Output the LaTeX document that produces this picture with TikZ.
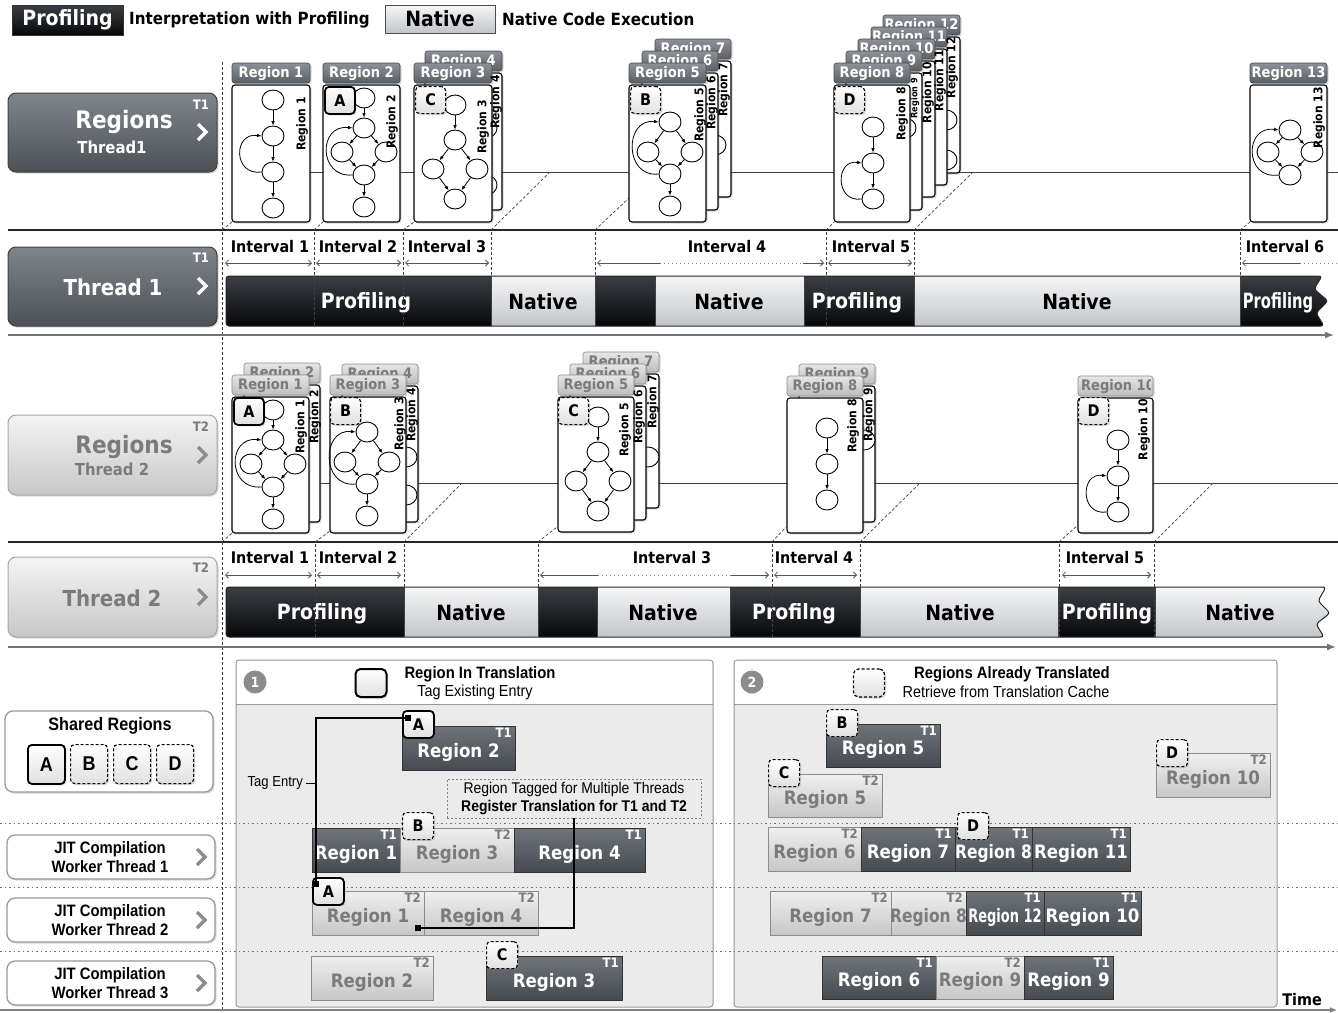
\documentclass[tikz,border=0pt]{standalone}
\usepackage{fontspec}
\setmainfont{DejaVu Sans}[FakeStretch=0.9]
\newfontfamily\libf{Liberation Sans}[FakeStretch=0.9]
\usetikzlibrary{arrows.meta,shapes.geometric,shadows}
\definecolor{hdrtop}{HTML}{8E9298}
\definecolor{hdrbot}{HTML}{5A5F65}
\definecolor{hdrln}{HTML}{474B51}
\definecolor{lhtop}{HTML}{E6E6E6}
\definecolor{lhbot}{HTML}{BCBDBF}
\definecolor{lhln}{HTML}{8A8C8F}
\definecolor{ltxt}{HTML}{7B7B7B}
\definecolor{dktop}{HTML}{80858C}
\definecolor{dkbot}{HTML}{4C5157}
\definecolor{jdtop}{HTML}{6F747B}
\definecolor{jdbot}{HTML}{464B51}
\definecolor{bltop}{HTML}{3B3F45}
\definecolor{blbot}{HTML}{060708}
\definecolor{nttop}{HTML}{F6F6F6}
\definecolor{ntbot}{HTML}{C2C5C9}
\definecolor{pnlc}{HTML}{EBEBEB}
\definecolor{circc}{HTML}{8C8C8C}
\definecolor{lnc}{HTML}{555555}
\tikzset{
  shd/.style={drop shadow={shadow xshift=1.5pt,shadow yshift=-1.5pt,opacity=0.3}},
  gn/.style={draw,line width=0.9pt,ellipse,minimum width=22pt,minimum height=20pt,inner sep=0pt,fill=white},
  ga/.style={-{Latex[length=4.5pt,width=3.6pt]},line width=0.8pt},
  cardbody/.style={draw=black,line width=1.1pt,fill=white,rounded corners=3pt,shd},
  hdrA/.style={draw=hdrln,line width=0.6pt,top color=hdrtop,bottom color=hdrbot,rounded corners=2.5pt,shd},
  hdrB/.style={draw=lhln,line width=0.6pt,top color=lhtop,bottom color=lhbot,rounded corners=2.5pt,shd},
  htA/.style={text=white,inner sep=0pt,font=\bfseries\fontsize{14.5}{14.5}\selectfont},
  htB/.style={text=ltxt,inner sep=0pt,font=\bfseries\fontsize{14.5}{14.5}\selectfont},
  vlab/.style={rotate=90,anchor=east,inner sep=0pt,font=\bfseries\fontsize{12}{12}\selectfont},
  bdgS/.style={draw=black,line width=1.8pt,rounded corners=4pt,top color=white,bottom color=black!12,minimum width=30pt,minimum height=27pt,inner sep=0pt,anchor=north west,font=\bfseries\fontsize{16}{16}\selectfont,shd},
  bdgD/.style={bdgS,line width=1.1pt,dash pattern=on 3pt off 2pt},
  iv/.style={draw=lnc,line width=0.8pt},
  ivb/.style={iv,{Straight Barb[length=3pt,width=6pt]}-{Straight Barb[length=3pt,width=6pt]}},
  ivl/.style={iv,{Straight Barb[length=3pt,width=6pt]}-},
  ivr/.style={iv,-{Straight Barb[length=3pt,width=6pt]}},
  ivd/.style={draw=lnc!70,line width=0.8pt,dash pattern=on 1pt off 3pt},
  dashv/.style={draw=black!75,line width=0.7pt,dash pattern=on 3pt off 2pt},
  ilab/.style={inner sep=0pt,font=\bfseries\fontsize{16}{16}\selectfont},
  blk/.style={top color=bltop,bottom color=blbot},
  nat/.style={top color=nttop,bottom color=ntbot},
  btW/.style={text=white,inner sep=0pt,font=\bfseries\fontsize{21}{21}\selectfont},
  btK/.style={text=black,inner sep=0pt,font=\bfseries\fontsize{21}{21}\selectfont},
  segl/.style={draw=black!75,line width=0.8pt},
  lbD/.style={draw=black!75,line width=1pt,rounded corners=8pt,top color=dktop,bottom color=dkbot,shd},
  lbL/.style={draw=black!35,line width=1pt,rounded corners=8pt,top color=black!4,bottom color=black!22,shd},
  jbD/.style={draw=black!80,line width=1pt,top color=jdtop,bottom color=jdbot},
  jbL/.style={draw=black!45,line width=1pt,top color=black!6,bottom color=black!22},
  jtD/.style={text=white,inner sep=0pt,font=\bfseries\fontsize{18.5}{18.5}\selectfont},
  jtL/.style={text=ltxt,inner sep=0pt,font=\bfseries\fontsize{18.5}{18.5}\selectfont},
  jgD/.style={text=white,inner sep=0pt,font=\bfseries\fontsize{13}{13}\selectfont},
  jgL/.style={text=ltxt,inner sep=0pt,font=\bfseries\fontsize{13}{13}\selectfont},
  wbox/.style={draw=black!40,line width=1.3pt,rounded corners=8pt,fill=white,shd},
  chevW/.style={draw=white,line width=3.5pt},
  chevG/.style={draw=black!45,line width=3.5pt},
  dotl/.style={draw=black!55,line width=1pt,dash pattern=on 1.5pt off 3pt},
}
\newcommand{\cardA}[7]{%
  \draw[cardbody] (#2,#3+22) rectangle (#4,#5);
  \draw[hdr#7] (#2,#3) rectangle (#4,#3+20);
  \node[ht#7] (#1) at ({(#2+#4)/2},#3+10.5) {#6};}
\newcommand{\jb}[9]{%
  \draw[jb#8] (#2,#3) rectangle (#4,#5);
  \node[jt#8,#9] (#1) at ({(#2+#4)/2},{(#3+#5)/2+4}) {#6};
  \node[jg#8,anchor=north east] (#1g) at (#4-3,#3+2) {#7};}
\newcommand{\grA}[3]{%
  \node[gn] (#1a) at (#2,#3) {};
  \node[gn] (#1b) at (#2,#3+36) {};
  \node[gn] (#1c) at (#2,#3+72) {};
  \node[gn] (#1d) at (#2,#3+108) {};
  \draw[ga] (#1a)--(#1b); \draw[ga] (#1b)--(#1c); \draw[ga] (#1c)--(#1d);
  \draw[ga] (#1c.west) .. controls (#2-40,#3+76) and (#2-40,#3+32) .. (#1b.west);}
\newcommand{\grB}[3]{%
  \node[gn] (#1a) at (#2,#3) {};
  \node[gn] (#1b) at (#2,#3+30) {};
  \node[gn] (#1l) at (#2-22,#3+54) {};
  \node[gn] (#1r) at (#2+22,#3+54) {};
  \node[gn] (#1m) at (#2,#3+77) {};
  \node[gn] (#1e) at (#2,#3+109) {};
  \draw[ga] (#1a)--(#1b); \draw[ga] (#1b)--(#1l); \draw[ga] (#1b)--(#1r);
  \draw[ga] (#1l)--(#1m); \draw[ga] (#1r)--(#1m); \draw[ga] (#1m)--(#1e);
  \draw[ga] (#1m.west) .. controls (#2-46,#3+80) and (#2-46,#3+26) .. (#1b.west);}
\newcommand{\grC}[3]{%
  \node[gn] (#1a) at (#2,#3) {};
  \node[gn] (#1b) at (#2,#3+35) {};
  \node[gn] (#1l) at (#2-22,#3+64) {};
  \node[gn] (#1r) at (#2+22,#3+64) {};
  \node[gn] (#1m) at (#2,#3+94) {};
  \draw[ga] (#1a)--(#1b); \draw[ga] (#1b)--(#1l); \draw[ga] (#1b)--(#1r);
  \draw[ga] (#1l)--(#1m); \draw[ga] (#1r)--(#1m);}
\newcommand{\grD}[3]{%
  \node[gn] (#1a) at (#2,#3) {};
  \node[gn] (#1l) at (#2-22,#3+30) {};
  \node[gn] (#1r) at (#2+22,#3+30) {};
  \node[gn] (#1m) at (#2,#3+52) {};
  \node[gn] (#1e) at (#2,#3+84) {};
  \draw[ga] (#1a)--(#1l); \draw[ga] (#1a)--(#1r);
  \draw[ga] (#1l)--(#1m); \draw[ga] (#1r)--(#1m); \draw[ga] (#1m)--(#1e);
  \draw[ga] (#1m.west) .. controls (#2-46,#3+56) and (#2-46,#3-4) .. (#1a.west);}
\newcommand{\grE}[3]{%
  \node[gn] (#1a) at (#2,#3) {};
  \node[gn] (#1b) at (#2,#3+36) {};
  \node[gn] (#1c) at (#2,#3+72) {};
  \draw[ga] (#1a)--(#1b); \draw[ga] (#1b)--(#1c);
  \draw[ga] (#1c.west) .. controls (#2-38,#3+76) and (#2-38,#3+32) .. (#1b.west);}
\newcommand{\grF}[3]{%
  \node[gn] (#1a) at (#2,#3) {};
  \node[gn] (#1b) at (#2,#3+36) {};
  \node[gn] (#1c) at (#2,#3+72) {};
  \draw[ga] (#1a)--(#1b); \draw[ga] (#1b)--(#1c);}
\newcommand{\grG}[3]{%
  \node[gn] (#1a) at (#2,#3) {};
  \node[gn] (#1l) at (#2-22,#3+22) {};
  \node[gn] (#1r) at (#2+22,#3+22) {};
  \node[gn] (#1m) at (#2,#3+45) {};
  \draw[ga] (#1a)--(#1l); \draw[ga] (#1a)--(#1r);
  \draw[ga] (#1l)--(#1m); \draw[ga] (#1r)--(#1m);
  \draw[ga] (#1m.west) .. controls (#2-46,#3+50) and (#2-46,#3-5) .. (#1a.west);}

\begin{document}
\begin{tikzpicture}[x=1pt,y=-1pt]
\useasboundingbox (0,0) rectangle (1338,1012);
\fill[white] (0,0) rectangle (1338,1012);

% ---------------- legend
\node[draw=black!80,line width=1pt,blk,minimum width=111pt,minimum height=30pt,inner sep=0pt,text=white,font=\bfseries\fontsize{21}{21}\selectfont] (lgP) at (67.5,20) {Profiling};
\node[anchor=west,inner sep=0pt,font=\bfseries\fontsize{16.8}{16.8}\selectfont] (lgPt) at (129,20) {Interpretation with Profiling};
\node[draw=black!70,line width=1pt,nat,minimum width=110pt,minimum height=28pt,inner sep=0pt,font=\bfseries\fontsize{21}{21}\selectfont] (lgN) at (440,19) {Native};
\node[anchor=west,inner sep=0pt,font=\bfseries\fontsize{16.8}{16.8}\selectfont] (lgNt) at (502,19) {Native Code Execution};

% ---------------- frame lines
\draw[dashv] (222,62) -- (222,1012);
\draw[black!85,line width=1.4pt] (8,230) -- (1338,230);
\draw[black!85,line width=1.4pt] (8,542) -- (1338,542);
\draw[black!55,line width=1.6pt,-{Latex[length=9pt,width=7pt]}] (8,335) -- (1334,335);
\draw[black!55,line width=1.6pt,-{Latex[length=9pt,width=7pt]}] (8,647) -- (1336,647);
\draw[black!75,line width=1pt] (232,172) -- (1338,172);
\draw[black!75,line width=1pt] (232,483) -- (1338,483);

% diagonals T1
\draw[dashv] (222,230) -- (232,222);
\draw[dashv] (314,230) -- (323,222);
\draw[dashv] (403,230) -- (414,222);
\draw[dashv] (491,230) -- (550,172);
\draw[dashv] (595,230) -- (630,197);
\draw[dashv] (826,230) -- (834,222);
\draw[dashv] (914,230) -- (973,172);
\draw[dashv] (1240,230) -- (1250,222);
% diagonals T2
\draw[dashv] (222,542) -- (232,533);
\draw[dashv] (315,542) -- (330,531);
\draw[dashv] (404,542) -- (462,483);
\draw[dashv] (538,542) -- (557,527);
\draw[dashv] (772,542) -- (786,527);
\draw[dashv] (860,542) -- (920,483);
\draw[dashv] (1059,542) -- (1078,525);
\draw[dashv] (1154,542) -- (1213,483);

% ---------------- left boxes
\draw[lbD] (8,93) rectangle (217,172);
\node[text=white,inner sep=0pt,font=\bfseries\fontsize{24}{24}\selectfont] (rg1) at (124,122) {Regions};
\node[text=white,inner sep=0pt,font=\bfseries\fontsize{16.5}{16.5}\selectfont] (rg1b) at (112,147) {Thread1};
\node[text=white,inner sep=0pt,font=\bfseries\fontsize{13}{13}\selectfont] (rg1t) at (201,105) {T1};
\draw[chevW] (198,124) -- (206,132) -- (198,140);

\draw[lbD] (8,247) rectangle (217,326);
\node[text=white,inner sep=0pt,font=\bfseries\fontsize{22}{22}\selectfont] (th1) at (113,287) {Thread 1};
\node[text=white,inner sep=0pt,font=\bfseries\fontsize{13}{13}\selectfont] (th1t) at (201,258) {T1};
\draw[chevW] (198,278) -- (206,286) -- (198,294);

\draw[lbL] (8,415) rectangle (217,495);
\node[text=ltxt,inner sep=0pt,font=\bfseries\fontsize{24}{24}\selectfont] (rg2) at (124,447) {Regions};
\node[text=ltxt,inner sep=0pt,font=\bfseries\fontsize{16.5}{16.5}\selectfont] (rg2b) at (112,469) {Thread 2};
\node[text=ltxt,inner sep=0pt,font=\bfseries\fontsize{13}{13}\selectfont] (rg2t) at (201,427) {T2};
\draw[chevG] (198,447) -- (206,455) -- (198,463);

\draw[lbL] (8,557) rectangle (217,637);
\node[text=ltxt,inner sep=0pt,font=\bfseries\fontsize{22}{22}\selectfont] (th2) at (112,598) {Thread 2};
\node[text=ltxt,inner sep=0pt,font=\bfseries\fontsize{13}{13}\selectfont] (th2t) at (201,568) {T2};
\draw[chevG] (198,589) -- (206,597) -- (198,605);

% ---------------- T1 cards
\cardA{h1}{232}{63}{310}{222}{Region 1}{A}
\grA{ga1}{273}{100}
\cardA{h2}{323}{63}{400}{222}{Region 2}{A}
\grB{gb2}{364}{98}
\node[bdgS] (bA1) at (324,86) {A};
\cardA{h4}{425}{51}{502}{210}{Region 4}{A}
\node[gn] (gh4a) at (486,128) {};
\node[gn] (gh4b) at (486,185) {};
\cardA{h3}{414}{63}{492}{222}{Region 3}{A}
\grC{gc3}{455}{105}
\node[bdgD] (bC1) at (415,86) {C};
\cardA{h7}{655}{39}{731}{197}{Region 7}{A}
\node[gn] (gh7) at (715,145) {};
\cardA{h6}{642}{51}{718}{210}{Region 6}{A}
\cardA{h5}{629}{63}{706}{222}{Region 5}{A}
\grD{gd5}{670}{122}
\node[bdgD] (bB1) at (630,86) {B};
\cardA{h12}{883}{15}{960}{173}{Region 12}{A}
\node[gn] (gh12a) at (946,120) {};
\node[gn] (gh12b) at (946,160) {};
\cardA{h11}{871}{27}{947}{185}{Region 11}{A}
\cardA{h10}{858}{39}{935}{197}{Region 10}{A}
\cardA{h9}{846}{51}{922}{210}{Region 9}{A}
\node[gn] (gh9) at (905,128) {};
\cardA{h8}{834}{63}{910}{222}{Region 8}{A}
\grE{ge8}{873}{127}
\node[bdgD] (bD1) at (834,86) {D};
\cardA{h13}{1250}{63}{1327}{222}{Region 13}{A}
\grG{gg13}{1290}{130}

\node[vlab] (v1) at (302,97) {Region 1};
\node[vlab] (v2) at (392,95) {Region 2};
\node[vlab] (v3) at (483,100) {Region 3};
\node[vlab] (v4) at (496,75) {Region 4};
\node[vlab] (v5) at (700,88) {Region 5};
\node[vlab] (v6) at (712,76) {Region 6};
\node[vlab] (v7) at (724,63) {Region 7};
\node[vlab] (v8) at (902,87) {Region 8};
\node[vlab,font=\bfseries\fontsize{9}{9}\selectfont] (v9) at (915,78) {Region 9};
\node[vlab] (v10) at (928,62) {Region 10};
\node[vlab] (v11) at (940,50) {Region 11};
\node[vlab] (v12) at (952,37) {Region 12};
\node[vlab] (v13) at (1319,87) {Region 13};

% ---------------- T2 cards
\cardA{k2}{244}{363}{320}{522}{Region 2}{B}
\cardA{k1}{232}{375}{309}{533}{Region 1}{B}
\grB{gk1}{273}{410}
\node[bdgS] (bA2) at (233,397) {A};
\cardA{k4}{342}{364}{418}{522}{Region 4}{B}
\node[gn] (gk4a) at (406,457) {};
\node[gn] (gk4b) at (406,495) {};
\cardA{k3}{330}{375}{406}{533}{Region 3}{B}
\grD{gk3}{367}{432}
\node[bdgD] (bB2) at (330,397) {B};
\cardA{k7}{583}{352}{659}{508}{Region 7}{B}
\node[gn] (gk7) at (648,457) {};
\cardA{k6}{570}{364}{646}{520}{Region 6}{B}
\cardA{k5}{558}{375}{634}{532}{Region 5}{B}
\grC{gk5}{598}{417}
\node[bdgD] (bC2) at (558,397) {C};
\cardA{k9}{799}{364}{875}{522}{Region 9}{B}
\node[gn] (gk9) at (864,440) {};
\cardA{k8}{787}{376}{863}{533}{Region 8}{B}
\grF{gk8}{827}{428}
\cardA{k10}{1078}{376}{1153}{533}{}{B}
\begin{scope}
\clip (1080,376) rectangle (1150,396);
\node[htB] (k10t) at (1118,386.5) {Region 10};
\end{scope}
\grE{gk10}{1118}{440}
\node[bdgD] (bD2) at (1078,397) {D};

\node[vlab] (w1) at (301,400) {Region 1};
\node[vlab] (w2) at (315,390) {Region 2};
\node[vlab] (w3) at (400,397) {Region 3};
\node[vlab] (w4) at (412,388) {Region 4};
\node[vlab] (w5) at (625,403) {Region 5};
\node[vlab] (w6) at (639,390) {Region 6};
\node[vlab] (w7) at (653,375) {Region 7};
\node[vlab] (w8) at (853,399) {Region 8};
\node[vlab] (w9) at (869,388) {Region 9};
\node[vlab] (w10) at (1144,399) {Region 10};

% ---------------- T1 bar
\begin{scope}
\clip[rounded corners=3pt] (1322,276) -- (226,276) -- (226,326) -- (1324,326) -- (1316,313) -- (1328,301) -- (1314,289) -- cycle;
\shade[blk] (226,276) rectangle (491,326);
\shade[nat] (491,276) rectangle (595,326);
\shade[blk] (595,276) rectangle (655,326);
\shade[nat] (655,276) rectangle (804,326);
\shade[blk] (804,276) rectangle (914,326);
\shade[nat] (914,276) rectangle (1240,326);
\shade[blk] (1240,276) rectangle (1332,326);
\draw[segl] (491,276) -- (491,326);
\draw[segl] (595,276) -- (595,326);
\draw[segl] (655,276) -- (655,326);
\draw[segl] (804,276) -- (804,326);
\draw[segl] (914,276) -- (914,326);
\draw[segl] (1240,276) -- (1240,326);
\end{scope}
\draw[black!85,line width=1pt,rounded corners=3pt] (1322,276) -- (226,276) -- (226,326) -- (1324,326) -- (1316,313) -- (1328,301) -- (1314,289) -- cycle;
\node[btW] (b1a) at (366,303) {Profiling};
\node[btK] (b1b) at (543,302) {Native};
\node[btK] (b1c) at (729,302) {Native};
\node[btW] (b1d) at (857,303) {Profiling};
\node[btK] (b1e) at (1077,302) {Native};
\node[btW,xscale=0.78] (b1f) at (1278,303) {Profiling};

% T1 intervals
\foreach \xx in {314,403,491,595,826,914,1240} \draw[dashv] (\xx,232) -- (\xx,327);
\node[ilab] (i11) at (270,247) {Interval 1};
\node[ilab] (i12) at (358,247) {Interval 2};
\node[ilab] (i13) at (447,247) {Interval 3};
\node[ilab] (i14) at (727,247) {Interval 4};
\node[ilab] (i15) at (871,247) {Interval 5};
\node[ilab] (i16) at (1285,247) {Interval 6};
\draw[ivb] (225,263) -- (312,263);
\draw[ivb] (316,263) -- (401,263);
\draw[ivb] (405,263) -- (489,263);
\draw[ivl] (597,263) -- (660,263);
\draw[ivd] (660,263) -- (803,263);
\draw[ivr] (803,263) -- (824,263);
\draw[ivb] (828,263) -- (912,263);
\draw[ivl] (1242,263) -- (1300,263);
\draw[ivd] (1300,263) -- (1338,263);

% ---------------- T2 bar
\begin{scope}
\clip[rounded corners=3pt] (1326,587) -- (226,587) -- (226,637) -- (1324,637) -- (1316,624) -- (1330,613) -- (1318,601) -- cycle;
\shade[blk] (226,587) rectangle (404,637);
\shade[nat] (404,587) rectangle (538,637);
\shade[blk] (538,587) rectangle (597,637);
\shade[nat] (597,587) rectangle (730,637);
\shade[blk] (730,587) rectangle (860,637);
\shade[nat] (860,587) rectangle (1058,637);
\shade[blk] (1058,587) rectangle (1155,637);
\shade[nat] (1155,587) rectangle (1334,637);
\draw[segl] (404,587) -- (404,637);
\draw[segl] (538,587) -- (538,637);
\draw[segl] (597,587) -- (597,637);
\draw[segl] (730,587) -- (730,637);
\draw[segl] (860,587) -- (860,637);
\draw[segl] (1058,587) -- (1058,637);
\draw[segl] (1155,587) -- (1155,637);
\end{scope}
\draw[black!85,line width=1pt,rounded corners=3pt] (1326,587) -- (226,587) -- (226,637) -- (1324,637) -- (1316,624) -- (1330,613) -- (1318,601) -- cycle;
\node[btW] (b2a) at (322,614) {Profiling};
\node[btK] (b2b) at (471,613) {Native};
\node[btK] (b2c) at (663,613) {Native};
\node[btW] (b2d) at (794,614) {Profilng};
\node[btK] (b2e) at (960,613) {Native};
\node[btW] (b2f) at (1107,614) {Profiling};
\node[btK] (b2g) at (1240,613) {Native};

% T2 intervals
\foreach \xx in {315,404,538,772,860,1059,1154} \draw[dashv] (\xx,544) -- (\xx,638);
\node[ilab] (i21) at (270,558) {Interval 1};
\node[ilab] (i22) at (358,558) {Interval 2};
\node[ilab] (i23) at (672,558) {Interval 3};
\node[ilab] (i24) at (814,558) {Interval 4};
\node[ilab] (i25) at (1105,558) {Interval 5};
\draw[ivb] (225,575) -- (312,575);
\draw[ivb] (317,575) -- (401,575);
\draw[ivl] (540,575) -- (598,575);
\draw[ivd] (598,575) -- (731,575);
\draw[ivr] (731,575) -- (769,575);
\draw[ivb] (774,575) -- (857,575);
\draw[ivb] (1062,575) -- (1151,575);

% ---------------- bottom section: left boxes
\draw[wbox] (5,711) rectangle (213,792);
\node[inner sep=0pt,font=\libf\bfseries\fontsize{18}{18}\selectfont] (shr) at (110,726) {Shared Regions};
\node[bdgS,minimum width=37pt,minimum height=39pt,font=\libf\bfseries\fontsize{20}{20}\selectfont] (sA) at (27,744) {A};
\node[bdgD,minimum width=37pt,minimum height=39pt,font=\libf\bfseries\fontsize{20}{20}\selectfont] (sB) at (70,744) {B};
\node[bdgD,minimum width=37pt,minimum height=39pt,font=\libf\bfseries\fontsize{20}{20}\selectfont] (sC) at (113,744) {C};
\node[bdgD,minimum width=37pt,minimum height=39pt,font=\libf\bfseries\fontsize{20}{20}\selectfont] (sD) at (156,744) {D};

\draw[wbox] (7,835) rectangle (215,879);
\node[align=center,inner sep=0pt,font=\libf\bfseries\fontsize{16.5}{18.5}\selectfont] (jw1) at (110,857) {JIT Compilation\\Worker Thread 1};
\draw[chevG] (197,849) -- (205,857) -- (197,865);
\draw[wbox] (7,898) rectangle (215,942);
\node[align=center,inner sep=0pt,font=\libf\bfseries\fontsize{16.5}{18.5}\selectfont] (jw2) at (110,920) {JIT Compilation\\Worker Thread 2};
\draw[chevG] (197,912) -- (205,920) -- (197,928);
\draw[wbox] (7,961) rectangle (215,1005);
\node[align=center,inner sep=0pt,font=\libf\bfseries\fontsize{16.5}{18.5}\selectfont] (jw3) at (110,983) {JIT Compilation\\Worker Thread 3};
\draw[chevG] (197,975) -- (205,983) -- (197,991);

% ---------------- panels
\draw[draw=black!40,line width=1pt,fill=pnlc,rounded corners=3pt] (236,660) rectangle (713,1007);
\fill[white] (237,661) rectangle (712,704);
\draw[black!40,line width=1pt] (236,704) -- (713,704);
\draw[draw=black!40,line width=1pt,fill=pnlc,rounded corners=3pt] (734,660) rectangle (1277,1007);
\fill[white] (735,661) rectangle (1276,704);
\draw[black!40,line width=1pt] (734,704) -- (1277,704);

\node[circle,fill=circc,minimum size=23pt,inner sep=0pt,text=white,font=\bfseries\fontsize{14}{14}\selectfont] (c1) at (255,682) {1};
\node[circle,fill=circc,minimum size=23pt,inner sep=0pt,text=white,font=\bfseries\fontsize{14}{14}\selectfont] (c2) at (752,682) {2};
\node[draw=black,line width=2pt,rounded corners=5pt,top color=white,bottom color=black!12,minimum width=31pt,minimum height=28pt,shd] (sq1) at (371,683) {};
\node[draw=black,line width=1.2pt,dash pattern=on 3pt off 2pt,rounded corners=5pt,top color=white,bottom color=black!12,minimum width=31pt,minimum height=28pt,shd] (sq2) at (869,683) {};
\node[inner sep=0pt,font=\libf\bfseries\fontsize{16.5}{16.5}\selectfont] (t1a) at (480,674) {Region In Translation};
\node[inner sep=0pt,font=\libf\fontsize{16}{16}\selectfont] (t1b) at (475,692) {Tag Existing Entry};
\node[inner sep=0pt,font=\libf\bfseries\fontsize{16.5}{16.5}\selectfont] (t2a) at (1012,674) {Regions Already Translated};
\node[inner sep=0pt,font=\libf\fontsize{16}{16}\selectfont] (t2b) at (1006,692) {Retrieve from Translation Cache};

% dotted row separators
\draw[dotl] (0,823) -- (1338,823);
\draw[dotl] (0,887) -- (1338,887);
\draw[dotl] (0,951) -- (1338,951);

% panel 1 boxes
\jb{p1a}{402}{726}{515}{770}{Region 2}{T1}{D}{}
\jb{p1b}{312}{828}{400}{872}{Region 1}{T1}{D}{}
\jb{p1c}{400}{828}{514}{872}{Region 3}{T2}{L}{}
\jb{p1d}{514}{828}{645}{872}{Region 4}{T1}{D}{}
\jb{p1e}{312}{891}{424}{935}{Region 1}{T2}{L}{}
\jb{p1f}{424}{891}{538}{935}{Region 4}{T2}{L}{}
\jb{p1g}{311}{956}{433}{1000}{Region 2}{T2}{L}{}
\jb{p1h}{486}{956}{622}{1000}{Region 3}{T1}{D}{}
\node[bdgS,minimum width=31pt] (pA1) at (402,710) {A};
\node[bdgD,minimum width=31pt] (pB1) at (402,812) {B};
\node[bdgS,minimum width=31pt] (pA2) at (312,877) {A};
\node[bdgD,minimum width=31pt] (pC1) at (486,941) {C};

\node[draw=black!50,line width=0.8pt,dash pattern=on 2pt off 2pt,align=center,inner sep=0pt,minimum width=254pt,minimum height=39pt,font=\libf\fontsize{15.5}{18}\selectfont] (note) at (574,798.5) {Region Tagged for Multiple Threads\\\textbf{Register Translation for T1 and T2}};
\node[anchor=east,inner sep=0pt,font=\libf\fontsize{14.5}{14.5}\selectfont] (tagt) at (303,783) {Tag Entry};
\coordinate (tagd) at (316,783);
\draw[line width=0.8pt] ([xshift=3pt]tagt.east) -- (tagd);
\coordinate (tagS) at (408,718);
\coordinate (tagE) at (316,884);
\draw[line width=1.3pt] (tagS) -| (tagE);
\coordinate (sqB) at (418,928);
\draw[line width=1.3pt] (note.south) |- (sqB);
\fill (405,715) rectangle (411,721);
\fill (313,881) rectangle (319,887);
\fill (415,925) rectangle (421,931);

% panel 2 boxes
\jb{q1}{826}{724}{940}{767}{Region 5}{T1}{D}{}
\jb{q2}{768}{774}{882}{817}{Region 5}{T2}{L}{}
\jb{q3}{1156}{753}{1270}{797}{Region 10}{T2}{L}{}
\jb{q4}{768}{827}{861}{871}{Region 6}{T2}{L}{}
\jb{q5}{861}{827}{955}{871}{Region 7}{T1}{D}{}
\jb{q6}{955}{827}{1032}{871}{Region 8}{T1}{D}{xscale=0.93}
\jb{q7}{1032}{827}{1130}{871}{Region 11}{T1}{D}{}
\jb{q8}{770}{891}{891}{935}{Region 7}{T2}{L}{}
\jb{q9}{891}{891}{966}{935}{Region 8}{T2}{L}{xscale=0.93}
\jb{q10}{966}{891}{1044}{935}{Region 12}{T1}{D}{xscale=0.78}
\jb{q11}{1044}{891}{1141}{935}{Region 10}{T1}{D}{}
\jb{q12}{822}{956}{936}{999}{Region 6}{T1}{D}{}
\jb{q13}{936}{956}{1024}{999}{Region 9}{T2}{L}{}
\jb{q14}{1024}{956}{1113}{999}{Region 9}{T1}{D}{}
\node[bdgD,minimum width=31pt] (qB) at (826,709) {B};
\node[bdgD,minimum width=31pt] (qC) at (768,759) {C};
\node[bdgD,minimum width=31pt] (qD1) at (1156,739) {D};
\node[bdgD,minimum width=31pt] (qD2) at (957,812) {D};

% time
\draw[black!50,line width=1.2pt,-{Latex[length=7pt,width=6pt]}] (0,1010) -- (1337,1010);
\node[inner sep=0pt,font=\bfseries\fontsize{16}{16}\selectfont] (timet) at (1302,1000) {Time};
\end{tikzpicture}
\end{document}
